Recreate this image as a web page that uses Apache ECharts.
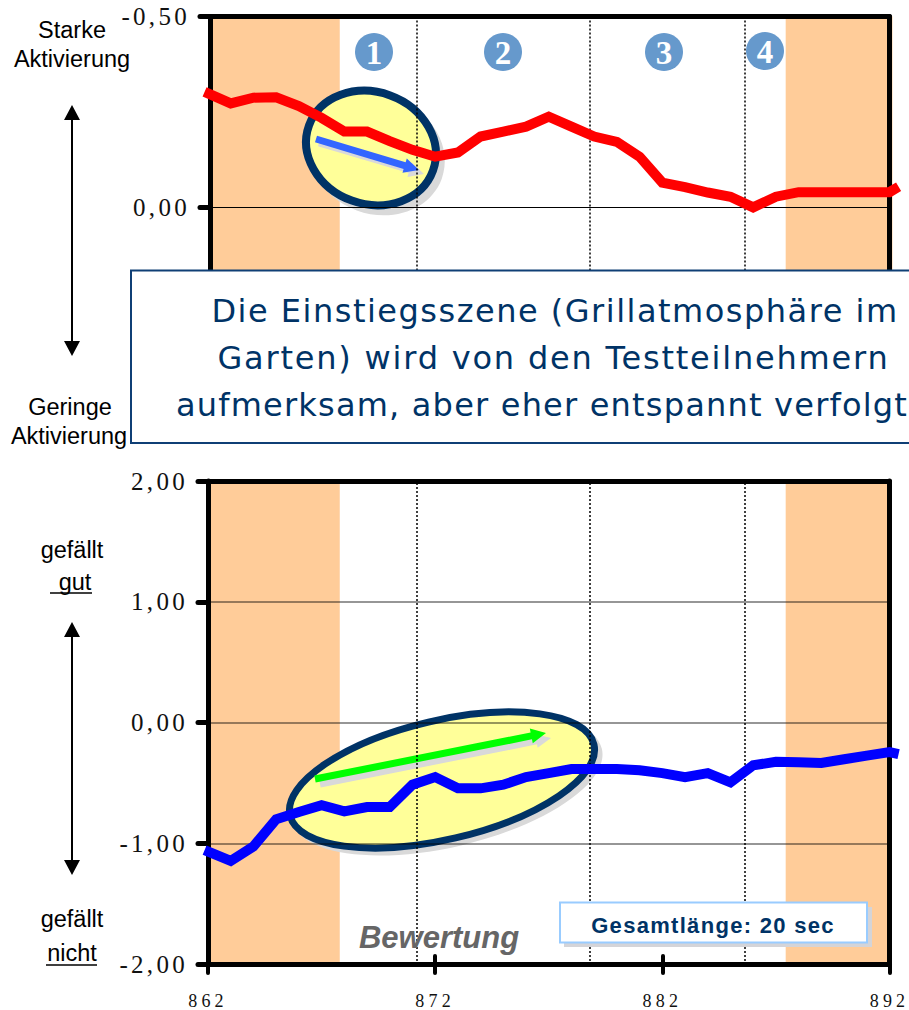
<!DOCTYPE html>
<html><head><meta charset="utf-8">
<style>
html,body{margin:0;padding:0;background:#fff;overflow:hidden}
#c{width:909px;height:1010px}
text[style*="ls35"]{letter-spacing:3.3px}
text[style*="ls4x"]{letter-spacing:4.2px}
text[style*="ls2x"]{letter-spacing:1.3px}
text[style*="ls1a"]{letter-spacing:1.5px}
text[style*="ls1b"]{letter-spacing:1.8px}
text[style*="ls1c"]{letter-spacing:1.2px}
</style>
<script src="https://cdn.jsdelivr.net/npm/echarts@6/dist/echarts.min.js"></script>
</head><body><div id="c"></div>
<script>
var seconds = [861.85,863,864,865,866,867,868,869,870,871,872,873,874,875,876,877,878,879,880,881,882,883,884,885,886,887,888,889,890,891,892,892.4];
var activation = [-0.302,-0.272,-0.287,-0.288,-0.265,-0.234,-0.198,-0.198,-0.173,-0.15,-0.132,-0.143,-0.185,-0.198,-0.211,-0.237,-0.211,-0.185,-0.171,-0.132,-0.064,-0.052,-0.038,-0.027,0.001,-0.027,-0.039,-0.039,-0.039,-0.039,-0.039,-0.053];
var rating = [-1.05,-1.14,-1.02,-0.795,-0.735,-0.68,-0.73,-0.695,-0.695,-0.51,-0.447,-0.54,-0.54,-0.51,-0.447,-0.414,-0.38,-0.38,-0.38,-0.39,-0.414,-0.447,-0.414,-0.49,-0.35,-0.32,-0.325,-0.33,-0.30,-0.27,-0.24,-0.257];
var sceneCuts = [871.17,878.8,885.62];
var bandsTop = [[862,867.8],[887.43,892.13]];
var bandsBottom = [[862,867.8],[887.43,892]];
var activationTicks = [-0.5,0];
var ratingTicks = [2,1,0,-1,-2];
var timeTicks = [862,872,882,892];
var sceneNumbers = ['1','2','3','4'];
var boxLines = ['Die Einstiegsszene (Grillatmosphäre im','Garten) wird von den Testteilnehmern','aufmerksam, aber eher entspannt verfolgt'];

var SERIF = "'Liberation Serif', ls35";
var SERIF_X = "'Liberation Serif', ls4x";
var SANS = "'Liberation Sans'";
function pairs(xs, ys){ return xs.map(function(x,i){ return [x, ys[i]]; }); }
function comma(v){ return v.toFixed(2).replace('.', ','); }

function frameY(gridIndex, min, max, inverse, interval, ticks, off, gridColor, gridW){
  return [{
    type:'value', gridIndex:gridIndex, min:min, max:max, inverse:inverse, interval:interval, offset:off, z:4,
    axisLine:{show:true,onZero:false,lineStyle:{color:'#000',width:5}},
    axisTick:{show:true,length:10,lineStyle:{color:'#000',width:5,cap:'round'}},
    axisLabel:{show:true,margin:20,color:'#111',fontSize:25,fontFamily:SERIF,
      formatter:function(v){ return ticks.indexOf(v)>=0 ? comma(v) : ''; }},
    splitLine:{show:true,lineStyle:{color:gridColor,width:gridW,type:'solid'}}
  },{
    type:'value', gridIndex:gridIndex, position:'right', min:min, max:max, inverse:inverse, interval:interval, z:4,
    axisLine:{show:true,onZero:false,lineStyle:{color:'#000',width:5}},
    axisTick:{show:false}, axisLabel:{show:false}, splitLine:{show:false}
  }];
}
function lineSeries(xi, yi, data, color, bands, name){
  return {
    type:'line', name:name, xAxisIndex:xi, yAxisIndex:yi, data:data, z:5, clip:false,
    symbol:'none', smooth:false, silent:true, sampling:'none',
    lineStyle:{color:color,width:10,join:'miter',cap:'butt'},
    markArea:{silent:true,z:1,animation:false,itemStyle:{color:'#FFCC99',opacity:1},
      data:bands.map(function(b){ return [{xAxis:b[0]},{xAxis:b[1]}]; })},
    markLine:{silent:true,z:3,animation:false,symbol:'none',label:{show:false},
      lineStyle:{color:'#000',width:1.5,type:[2,2]},
      data:sceneCuts.map(function(v){ return {xAxis:v}; })}
  };
}
function txt(s,x,y,font,fill,align,z){
  return {type:'text',z:z||30,silent:true,style:{text:s,x:x,y:y,font:font,fill:fill,textAlign:align||'center',textVerticalAlign:'middle'}};
}
function seg(x1,y1,x2,y2,c,w,z){
  return {type:'line',z:z||30,silent:true,shape:{x1:x1,y1:y1,x2:x2,y2:y2},style:{stroke:c,lineWidth:w}};
}
function arrowPoly(x1,y1,x2,y2,sw,hw,hl,fill,z){
  var dx=x2-x1,dy=y2-y1,L=Math.sqrt(dx*dx+dy*dy),ux=dx/L,uy=dy/L,nx=-uy,ny=ux;
  var bx=x2-ux*hl,by=y2-uy*hl;
  return {type:'polygon',z:z,silent:true,shape:{points:[
    [x1+nx*sw/2,y1+ny*sw/2],[bx+nx*sw/2,by+ny*sw/2],[bx+nx*hw/2,by+ny*hw/2],[x2,y2],
    [bx-nx*hw/2,by-ny*hw/2],[bx-nx*sw/2,by-ny*sw/2],[x1-nx*sw/2,y1-ny*sw/2]]},style:{fill:fill}};
}
function ell(cx,cy,rx,ry,rot,fill,stroke,w,z){
  return {type:'ellipse',z:z,silent:true,x:cx,y:cy,rotation:rot,shape:{cx:0,cy:0,rx:rx,ry:ry},
    style:{fill:fill,stroke:stroke,lineWidth:w}};
}
function dblArrow(x,y1,y2){
  return [seg(x,y1+10,x,y2-10,'#000',2),
    {type:'polygon',z:30,silent:true,shape:{points:[[x,y1],[x-8,y1+15],[x+8,y1+15]]},style:{fill:'#000'}},
    {type:'polygon',z:30,silent:true,shape:{points:[[x,y2],[x-8,y2-15],[x+8,y2-15]]},style:{fill:'#000'}}];
}

var graphics = [];
graphics.push(ell(377,155,69,59,-0.35,'#D9D9D9',null,0,2));
graphics.push(ell(371,148,66,56,-0.35,'#FFFF99','#003366',8,2));
graphics.push(arrowPoly(319,143,424,174,7,15,15,'#D9D9D9',2));
graphics.push(arrowPoly(316,139,419,170,7,15,15,'#3366FF',2));
graphics.push(ell(447,785,159,62,0.23,'#D9D9D9',null,0,2));
graphics.push(ell(442,780,156,59.5,0.23,'#FFFF99','#003366',7,2));
graphics.push(arrowPoly(320,784,551,738,7,14,15,'#D9D9D9',2));
graphics.push(arrowPoly(315,779,546,733,7,15,15,'#00FF00',2));
[[374,52],[503,52],[664,52],[765,51]].forEach(function(p,i){
  graphics.push({type:'circle',z:6,silent:true,shape:{cx:p[0],cy:p[1],r:19},style:{fill:'#6699CC'}});
  graphics.push(txt(sceneNumbers[i],p[0],p[1]+1,"bold 33px 'Liberation Serif'",'#fff','center',7));
});
graphics.push(txt('Starke',72,30,'23.5px '+SANS,'#000'));
graphics.push(txt('Aktivierung',72,59,'23.5px '+SANS,'#000'));
graphics.push(txt('Geringe',70,407,'23.5px '+SANS,'#000'));
graphics.push(txt('Aktivierung',69,436,'23.5px '+SANS,'#000'));
graphics.push(txt('gefällt',72,550,'23.5px '+SANS,'#000'));
graphics.push(txt('gut',75,582,'23.5px '+SANS,'#000'));
graphics.push(seg(50,593,92,593,'#000',1.5));
graphics.push(txt('gefällt',72,919,'23.5px '+SANS,'#000'));
graphics.push(txt('nicht',72,953,'23.5px '+SANS,'#000'));
graphics.push(seg(46,965,97,965,'#000',1.5));
graphics = graphics.concat(dblArrow(72,105,356), dblArrow(72,622,875));
graphics.push({type:'rect',z:20,silent:true,shape:{x:131,y:270.5,width:800,height:172.5},style:{fill:'#fff',stroke:'#0F3F75',lineWidth:2}});
var boxCenters=[555,553.5,542], boxSpacing=['ls1a','ls1b','ls1c'];
boxLines.forEach(function(s,i){ graphics.push(txt(s,boxCenters[i],311+i*47,"32px 'DejaVu Sans', "+boxSpacing[i],'#003366','center',21)); });
graphics.push(txt('Bewertung',439,937,'italic bold 31px '+SANS,'#666666','center',8));
graphics.push({type:'rect',z:8,silent:true,shape:{x:564,y:907,width:308,height:40},style:{fill:'#D4D4D8'}});
graphics.push({type:'rect',z:9,silent:true,shape:{x:560,y:902.5,width:307,height:40},style:{fill:'#fff',stroke:'#99CCFF',lineWidth:2}});
graphics.push(txt('Gesamtlänge: 20 sec',713,925,"bold 22px 'Liberation Sans', ls2x",'#003366','center',10));

var yTop = frameY(0,-0.5,0.5,true,0.5,activationTicks,-2,'#000',1);
var yBot = frameY(1,-2,2,false,1,ratingTicks,0,'rgba(0,0,0,0.55)',1.5);

var option = {
  animation:false,
  backgroundColor:'#fff',
  grid:[
    {left:208,width:681.5,top:16.5,height:381,show:false},
    {left:208,width:681.5,top:481,height:484,show:false},
    // same scale as the frames, wide enough that the lines run past the frame as in the picture
    {left:204.59,width:694,top:16.5,height:381,show:false},
    {left:204.59,width:694,top:481,height:484,show:false}
  ],
  xAxis:[
    {type:'value',gridIndex:0,min:862,max:892,interval:10,position:'top',z:4,
     axisLine:{show:true,onZero:false,lineStyle:{color:'#000',width:5}},axisTick:{show:false},axisLabel:{show:false},splitLine:{show:false}},
    {type:'value',gridIndex:1,min:862,max:892,interval:10,position:'top',z:4,
     axisLine:{show:true,onZero:false,lineStyle:{color:'#000',width:5}},axisTick:{show:false},axisLabel:{show:false},splitLine:{show:false}},
    {type:'value',gridIndex:1,min:862,max:892,interval:10,position:'bottom',z:4,
     axisLine:{show:true,onZero:false,lineStyle:{color:'#000',width:5}},
     axisTick:{show:true,length:9,lineStyle:{color:'#000',width:4,cap:'round'}},
     axisLabel:{show:true,margin:28,color:'#111',fontSize:18,fontFamily:SERIF_X,showMinLabel:true,showMaxLabel:true,hideOverlap:false,
       formatter:function(v){ return timeTicks.indexOf(v)>=0 ? String(v) : ''; }},
     splitLine:{show:false}},
    {type:'value',gridIndex:1,min:862,max:892,interval:10,position:'bottom',z:4,
     axisLine:{show:false,onZero:false},
     axisTick:{show:true,inside:true,length:8,lineStyle:{color:'#000',width:4,cap:'round'}},
     axisLabel:{show:false},splitLine:{show:false}},
    {type:'value',gridIndex:2,min:861.85,max:892.4,show:false},
    {type:'value',gridIndex:3,min:861.85,max:892.4,show:false}
  ],
  yAxis:yTop.concat(yBot).concat([
    {type:'value',gridIndex:2,min:-0.5,max:0.5,inverse:true,show:false},
    {type:'value',gridIndex:3,min:-2,max:2,show:false}
  ]),
  series:[
    lineSeries(4,4,pairs(seconds,activation),'#FF0000',bandsTop,'Aktivierung'),
    lineSeries(5,5,pairs(seconds,rating),'#0000FF',bandsBottom,'Bewertung')
  ],
  graphic:{elements:graphics}
};
var chart = echarts.init(document.getElementById('c'),null,{renderer:'svg'});
chart.setOption(option);
</script></body></html>
